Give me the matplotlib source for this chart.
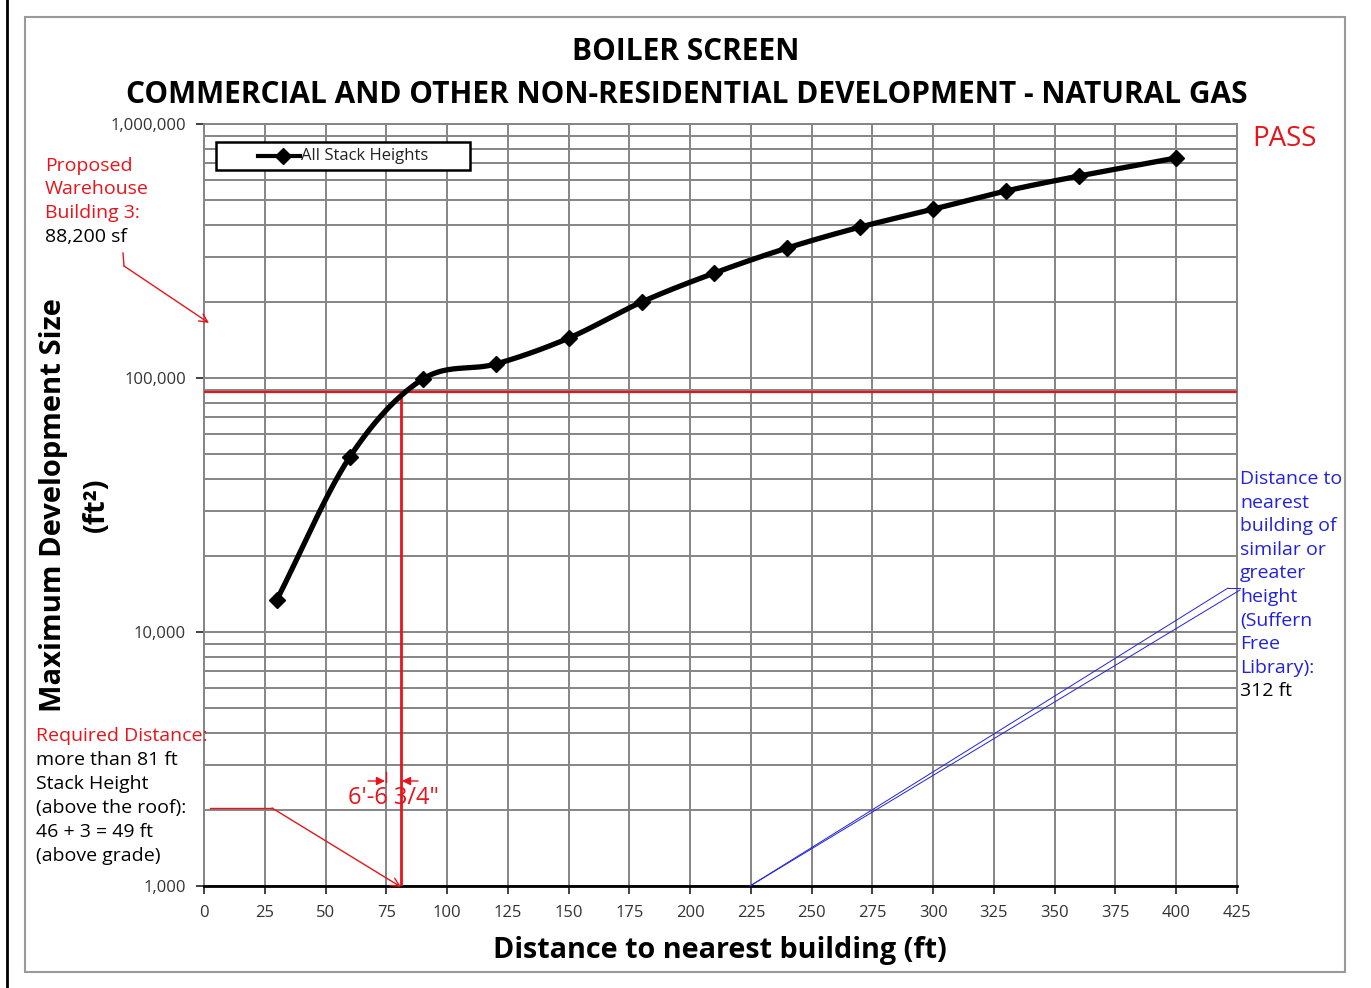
import numpy as np
import matplotlib.pyplot as plt
from matplotlib.lines import Line2D
from matplotlib.patches import Rectangle, FancyArrowPatch
from matplotlib.ticker import FixedLocator, FuncFormatter, NullFormatter

plt.rcParams['font.family'] = ['Open Sans', 'DejaVu Sans']

# data
distance_ft = [30, 60, 90, 120, 150, 180, 210, 240, 270, 300, 330, 360, 400]
max_size_sf = [13400, 48900, 99000, 113500, 143500, 199000, 259000, 325000,
               393000, 462000, 545000, 624000, 735000]
building_sf = 88200
required_ft = 81
x_ticks = list(range(0, 426, 25))
y_major = [1000, 10000, 100000, 1000000]

W, H = 1371, 988
RED = '#e8141b'
BLUE = '#2222dd'
GRID = '#858585'


def fp(x, y):
    # image pixel -> figure fraction
    return x / W, 1 - y / H


def smooth(xs, ys, n=30):
    # catmull-rom through the points in log space (excel "smoothed line")
    lx = np.array(xs, float)
    ly = np.log10(ys)
    px = np.concatenate([[2 * lx[0] - lx[1]], lx, [2 * lx[-1] - lx[-2]]])
    py = np.concatenate([[2 * ly[0] - ly[1]], ly, [2 * ly[-1] - ly[-2]]])
    ox, oy = [], []
    t = np.linspace(0, 1, n)
    for i in range(1, len(px) - 2):
        for arr, out in ((px, ox), (py, oy)):
            p0, p1, p2, p3 = arr[i - 1:i + 3]
            out.extend(0.5 * ((2 * p1) + (-p0 + p2) * t +
                              (2 * p0 - 5 * p1 + 4 * p2 - p3) * t ** 2 +
                              (-p0 + 3 * p1 - 3 * p2 + p3) * t ** 3))
    return np.array(ox), 10 ** np.array(oy)


def fline(xs, ys, **kw):
    fig.lines.append(Line2D([x / W for x in xs], [1 - y / H for y in ys],
                            transform=fig.transFigure, **kw))


def farrow(p0, p1, style, **kw):
    fig.patches.append(FancyArrowPatch(fp(*p0), fp(*p1), transform=fig.transFigure,
                                       arrowstyle=style, shrinkA=0, shrinkB=0, **kw))


fig = plt.figure(figsize=(W / 100, H / 100), dpi=100)

# page frame
fig.patches.append(Rectangle(fp(25, 972), 1320 / W, 955 / H, transform=fig.transFigure,
                             fill=False, edgecolor='#9a9a9a', lw=1.5))
fline([7, 7], [0, H], color='black', lw=2)

ax = fig.add_axes([204 / W, 1 - 886 / H, (1237 - 204) / W, (886 - 124) / H])
ax.set_yscale('log')
ax.set_xlim(0, 425)
ax.set_ylim(1000, 1000000)

ax.xaxis.set_major_locator(FixedLocator(x_ticks))
ax.yaxis.set_major_locator(FixedLocator(y_major))
ax.yaxis.set_minor_locator(FixedLocator([m * d for d in y_major[:-1] for m in range(2, 10)]))
ax.yaxis.set_major_formatter(FuncFormatter(lambda v, p: f'{int(v):,}'))
ax.yaxis.set_minor_formatter(NullFormatter())
ax.grid(True, which='both', color=GRID, lw=1.4)
ax.set_axisbelow(True)
ax.tick_params(axis='both', which='major', direction='out', length=6, width=1.3,
               labelsize=12, colors='#333333')
ax.tick_params(axis='x', pad=8)
ax.tick_params(axis='y', pad=7)
ax.tick_params(axis='y', which='minor', length=0)
for s in ['top', 'right', 'left']:
    ax.spines[s].set_color(GRID)
    ax.spines[s].set_linewidth(1.4)
ax.spines['bottom'].set_color('black')
ax.spines['bottom'].set_linewidth(2)

# reference lines
ax.axhline(building_sf, color=RED, lw=1.6, zorder=3)
ax.plot([required_ft, required_ft], [1000, building_sf], color=RED, lw=2, zorder=3)

sx, sy = smooth(distance_ft, max_size_sf)
ax.plot(sx, sy, color='black', lw=3.8, zorder=4, solid_capstyle='round')
ax.plot(distance_ft, max_size_sf, 'D', color='black', ms=8.5, zorder=5)

# legend box
fig.patches.append(Rectangle(fp(216, 170), 254 / W, 28 / H, transform=fig.transFigure,
                             facecolor='white', edgecolor='black', lw=1.8, zorder=6))
fline([258, 300], [156, 156], color='black', lw=3, marker=None, zorder=7)
fline([283], [156], color='black', marker='D', ms=8, ls='none', zorder=7)
fig.text(*fp(301, 156), 'All Stack Heights', ha='left', va='center', fontsize=12,
         color='#222222', zorder=7)

# titles
fig.text(*fp(686, 52), 'BOILER SCREEN', ha='center', va='center', fontsize=21.5, fontweight='bold')
fig.text(*fp(687, 95), 'COMMERCIAL AND OTHER NON-RESIDENTIAL DEVELOPMENT - NATURAL GAS',
         ha='center', va='center', fontsize=21.5, fontweight='bold')
fig.text(*fp(54, 505), 'Maximum Development Size', rotation=90, ha='center', va='center',
         fontsize=21, fontweight='bold')
fig.text(*fp(96, 505), '(ft²)', rotation=90, ha='center', va='center',
         fontsize=21, fontweight='bold')
fig.text(*fp(720, 950), 'Distance to nearest building (ft)', ha='center', va='center',
         fontsize=20.7, fontweight='bold')

fig.text(*fp(1284, 139), 'PASS', ha='center', va='center', fontsize=20, color=RED)

# left annotations
for i, (t, c) in enumerate([('Proposed', RED), ('Warehouse', RED), ('Building 3:', RED),
                            ('88,200 sf', 'black')]):
    fig.text(*fp(45, 166 + i * 23.5), t, ha='left', va='center', fontsize=14, color=c)
fline([123, 124], [253, 266], color=RED, lw=1)
farrow((124, 266), (209, 323), '->,head_length=6,head_width=3', color=RED, lw=1)

req_lines = [('Required Distance:', RED), ('more than 81 ft', 'black'), ('Stack Height', 'black'),
             ('(above the roof):', 'black'), ('46 + 3 = 49 ft', 'black'), ('(above grade)', 'black')]
for i, (t, c) in enumerate(req_lines):
    fig.text(*fp(36, 736 + i * 24), t, ha='left', va='center', fontsize=14, color=c)
fline([210, 272], [808, 808], color=RED, lw=1)
farrow((272, 808), (401, 887), '->,head_length=6,head_width=3', color=RED, lw=1)

# dimension mark
fig.text(*fp(393, 798), "6'-6 3/4\"", ha='center', va='center', fontsize=17, color=RED)
farrow((368, 781), (385, 781), '-|>,head_length=5,head_width=2.5', color=RED, lw=1)
farrow((418, 781), (402, 781), '-|>,head_length=5,head_width=2.5', color=RED, lw=1)
fline([386, 386], [772, 782], color=RED, lw=1)

# right annotation
lib_lines = ['Distance to', 'nearest', 'building of', 'similar or', 'greater', 'height',
             '(Suffern', 'Free', 'Library):']
for i, t in enumerate(lib_lines + ['312 ft']):
    fig.text(*fp(1240, 479 + i * 23.6), t, ha='left', va='center', fontsize=14,
             color=BLUE if i < len(lib_lines) else 'black')
fline([1228, 750], [588, 886], color=BLUE, lw=0.7)
fline([1240, 750], [590, 886], color=BLUE, lw=0.7)
fline([1228, 1240], [588, 588], color=BLUE, lw=0.7)

fig.savefig('out.png', dpi=100)
